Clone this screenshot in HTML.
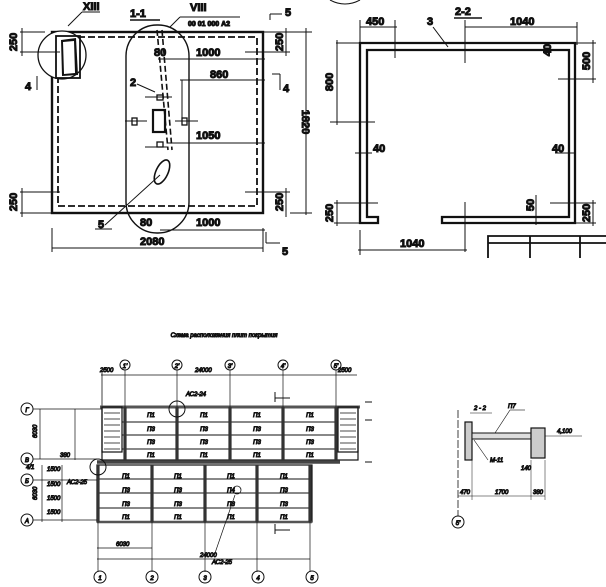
<!DOCTYPE html>
<html><head><meta charset="utf-8"><style>
html,body{margin:0;padding:0;background:#fff;width:606px;height:587px;overflow:hidden}
svg{display:block}
text{font-family:"Liberation Sans","DejaVu Sans",sans-serif;fill:#111}
.b{font-weight:bold;font-size:11px}
.s{font-size:6px;font-style:italic}
</style></head><body>
<svg width="606" height="587" viewBox="0 0 606 587" xmlns="http://www.w3.org/2000/svg" stroke="#111" fill="none">
<!-- ===== Top-left plan ===== -->
<rect x="52" y="32" width="211" height="181" stroke-width="2.4"/>
<rect x="58" y="37" width="199" height="169" stroke-width="1.8" stroke-dasharray="7,3"/>
<circle cx="62" cy="55" r="24" stroke-width="1.3" fill="#fff"/>
<rect x="56" y="36" width="24" height="42" stroke-width="1.8"/>
<polygon points="61,40 76,38 78,75 62,76" fill="#111" stroke="none"/>
<polygon points="63,42 74,41 75,73 64,74" fill="#fff" stroke="none"/>
<line x1="68" y1="26" x2="82" y2="12" stroke-width="1"/><line x1="82" y1="12" x2="100" y2="12"/>
<text x="83" y="10" class="b" font-size="9">XIII</text>
<text x="130" y="17" class="b">1-1</text><line x1="130" y1="20" x2="160" y2="20" stroke-width="1.5"/>
<text x="190" y="11" class="b" font-size="9">VIII</text>
<line x1="170" y1="27" x2="180" y2="17"/><line x1="180" y1="17" x2="240" y2="17"/>
<text x="188" y="26" font-size="7" font-weight="bold">00 01 000 А2</text>
<rect x="126" y="25" width="63" height="208" rx="31" ry="31" stroke-width="1.4"/>
<line x1="157" y1="30" x2="168" y2="150" stroke-width="1.6" stroke-dasharray="6,3"/>
<line x1="162" y1="30" x2="172" y2="150" stroke-width="1.6" stroke-dasharray="6,3"/>
<ellipse cx="162" cy="172" rx="6" ry="13" transform="rotate(25 162 172)" stroke-width="1.6"/>
<rect x="153" y="110" width="12" height="22" stroke-width="2.2"/>
<rect x="157" y="95" width="6" height="5" stroke-width="1.3"/><rect x="157" y="142" width="6" height="5" stroke-width="1.3"/>
<rect x="132" y="118" width="5" height="7" stroke-width="1.3"/><rect x="182" y="118" width="5" height="7" stroke-width="1.3"/>
<line x1="145" y1="97" x2="172" y2="97"/><line x1="125" y1="121" x2="147" y2="121"/><line x1="175" y1="121" x2="198" y2="121"/>
<line x1="145" y1="147" x2="168" y2="147"/>
<text x="130" y="86" class="b">2</text><line x1="137" y1="84" x2="155" y2="92"/>
<line x1="158" y1="59" x2="265" y2="59"/><text x="154" y="56" class="b">80</text><text x="196" y="56" class="b">1000</text>
<line x1="180" y1="80" x2="265" y2="80"/><text x="210" y="78" class="b">860</text><line x1="182" y1="80" x2="182" y2="125"/>
<line x1="168" y1="143" x2="265" y2="143"/><text x="196" y="139" class="b">1050</text>
<line x1="160" y1="230" x2="265" y2="230"/><text x="140" y="226" class="b">80</text><text x="196" y="226" class="b">1000</text>
<text x="98" y="228" class="b">5</text><line x1="105" y1="225" x2="160" y2="175"/><line x1="95" y1="229" x2="112" y2="229"/>
<line x1="52" y1="248" x2="263" y2="248"/><line x1="52" y1="228" x2="52" y2="252"/><line x1="263" y1="228" x2="263" y2="252"/>
<text x="140" y="245" class="b">2080</text>
<line x1="306" y1="28" x2="306" y2="215"/><line x1="290" y1="32" x2="312" y2="32"/><line x1="290" y1="213" x2="312" y2="213"/>
<text transform="translate(302 122) rotate(90)" class="b" text-anchor="middle">1820</text>
<line x1="20" y1="32" x2="45" y2="32"/><line x1="20" y1="52" x2="60" y2="52"/><line x1="22" y1="28" x2="22" y2="56"/>
<text transform="translate(17 42) rotate(-90)" class="b" font-size="9" text-anchor="middle">250</text>
<line x1="20" y1="192" x2="60" y2="192"/><line x1="20" y1="213" x2="52" y2="213"/><line x1="22" y1="188" x2="22" y2="217"/>
<text transform="translate(17 202) rotate(-90)" class="b" font-size="9" text-anchor="middle">250</text>
<line x1="263" y1="32" x2="290" y2="32"/><line x1="245" y1="52" x2="290" y2="52"/><line x1="286" y1="28" x2="286" y2="56"/>
<text transform="translate(283 42) rotate(-90)" class="b" font-size="9" text-anchor="middle">250</text>
<line x1="245" y1="192" x2="290" y2="192"/><line x1="286" y1="188" x2="286" y2="217"/>
<text transform="translate(283 202) rotate(-90)" class="b" font-size="9" text-anchor="middle">250</text>
<text x="25" y="90" class="b">4</text><line x1="37" y1="90" x2="37" y2="76"/>
<text x="283" y="92" class="b">4</text><line x1="272" y1="74" x2="280" y2="74"/><line x1="280" y1="74" x2="280" y2="90"/>
<text x="285" y="16" class="b">5</text><line x1="270" y1="14" x2="282" y2="14"/><line x1="270" y1="14" x2="270" y2="20"/>
<text x="282" y="255" class="b">5</text><line x1="266" y1="243" x2="280" y2="243"/><line x1="266" y1="232" x2="266" y2="243"/>
<!-- ===== Top-right section 2-2 ===== -->
<path d="M330 0 Q345 8 360 0" stroke-width="1"/>
<text x="455" y="15" class="b">2-2</text><line x1="454" y1="18" x2="482" y2="18" stroke-width="1.5"/>
<path d="M360 223 V43 H575 V223 H442 V217 H569 V50 H367 V217 H378 V223 Z" stroke-width="2.3"/>
<line x1="360" y1="27" x2="397" y2="27"/><line x1="360" y1="20" x2="360" y2="45"/><line x1="395" y1="20" x2="395" y2="58"/>
<text x="366" y="25" class="b">450</text>
<line x1="465" y1="27" x2="577" y2="27"/><line x1="465" y1="20" x2="465" y2="63"/><line x1="577" y1="22" x2="577" y2="45"/>
<text x="510" y="25" class="b">1040</text>
<text x="427" y="25" class="b">3</text><line x1="433" y1="27" x2="448" y2="47"/>
<line x1="336" y1="43" x2="360" y2="43"/><line x1="330" y1="122" x2="375" y2="122"/><line x1="337" y1="40" x2="337" y2="125"/>
<text transform="translate(333 82) rotate(-90)" class="b" text-anchor="middle">800</text>
<line x1="355" y1="153" x2="372" y2="153"/><text x="373" y="152" class="b">40</text>
<line x1="555" y1="153" x2="575" y2="153"/><text x="552" y="152" class="b">40</text>
<text transform="translate(551 50) rotate(-90)" class="b" font-size="9" text-anchor="middle">40</text>
<line x1="575" y1="43" x2="596" y2="43"/><line x1="558" y1="79" x2="596" y2="79"/><line x1="593" y1="40" x2="593" y2="83"/>
<text transform="translate(590 61) rotate(-90)" class="b" font-size="9" text-anchor="middle">500</text>
<line x1="334" y1="203" x2="378" y2="203"/><line x1="334" y1="223" x2="360" y2="223"/><line x1="337" y1="200" x2="337" y2="226"/>
<text transform="translate(333 213) rotate(-90)" class="b" font-size="9" text-anchor="middle">250</text>
<line x1="550" y1="203" x2="596" y2="203"/><line x1="575" y1="223" x2="596" y2="223"/><line x1="593" y1="200" x2="593" y2="226"/>
<text transform="translate(590 213) rotate(-90)" class="b" font-size="9" text-anchor="middle">250</text>
<line x1="536" y1="195" x2="536" y2="225"/><text transform="translate(534 205) rotate(-90)" class="b" font-size="9" text-anchor="middle">50</text>
<line x1="465" y1="202" x2="465" y2="252"/>
<line x1="358" y1="250" x2="467" y2="250"/><line x1="360" y1="230" x2="360" y2="255"/>
<text x="400" y="247" class="b">1040</text>
<path d="M488 258 V236 H606 M488 243 H606 M530 236 V258 M580 236 V258" stroke-width="1.8"/>
<!-- ===== Bottom plan ===== -->
<text x="224" y="337" class="s" font-size="7" text-anchor="middle">Схема расположения плит покрытия</text>
<line x1="101" y1="375" x2="357" y2="375" stroke-width="0.8"/>
<text x="100" y="372" class="s">2500</text><text x="195" y="372" class="s">24000</text><text x="338" y="372" class="s">2500</text>
<line x1="102" y1="373" x2="102" y2="407" stroke-width="0.8"/>
<rect x="102" y="407" width="256" height="53" stroke-width="1.2"/>
<line x1="100" y1="407" x2="360" y2="407" stroke-width="3" stroke="#555"/>
<line x1="97" y1="462" x2="340" y2="462" stroke-width="3.5" stroke="#444"/>
<g stroke-width="1.1"><line x1="122" y1="422" x2="336" y2="422"/><line x1="122" y1="435" x2="336" y2="435"/><line x1="122" y1="449" x2="336" y2="449"/></g>
<rect x="102" y="407" width="20" height="45" stroke-width="1.2"/><rect x="338" y="407" width="20" height="45" stroke-width="1.2"/>
<g stroke-width="0.7"><path d="M104 413H120M104 419H120M104 425H120M104 431H120M104 437H120M104 443H120M104 449H120M340 413H356M340 419H356M340 425H356M340 431H356M340 437H356M340 443H356M340 449H356"/></g>
<g stroke-width="3.2" stroke="#333"><line x1="125" y1="407" x2="125" y2="460"/><line x1="177" y1="407" x2="177" y2="460"/><line x1="230" y1="407" x2="230" y2="460"/><line x1="283" y1="407" x2="283" y2="460"/><line x1="336" y1="407" x2="336" y2="460"/></g>
<g stroke-width="0.7"><line x1="125" y1="370" x2="125" y2="407"/><line x1="177" y1="370" x2="177" y2="407"/><line x1="230" y1="370" x2="230" y2="407"/><line x1="283" y1="370" x2="283" y2="407"/><line x1="336" y1="370" x2="336" y2="407"/></g>
<g stroke-width="1"><circle cx="125" cy="365" r="5"/><circle cx="177" cy="365" r="5"/><circle cx="230" cy="365" r="5"/><circle cx="283" cy="365" r="5"/><circle cx="336" cy="365" r="5"/></g>
<g class="s" font-size="6" text-anchor="middle"><text x="125" y="368">1'</text><text x="177" y="368">2'</text><text x="230" y="368">3'</text><text x="283" y="368">4'</text><text x="336" y="368">5'</text></g>
<circle cx="177" cy="409" r="8" stroke-width="1"/>
<g class="s" font-size="5" text-anchor="middle">
<text x="151" y="417">П1</text><text x="204" y="417">П1</text><text x="257" y="417">П1</text><text x="310" y="417">П1</text>
<text x="151" y="431">П3</text><text x="204" y="431">П3</text><text x="257" y="431">П3</text><text x="310" y="431">П3</text>
<text x="151" y="444">П3</text><text x="204" y="444">П3</text><text x="257" y="444">П3</text><text x="310" y="444">П3</text>
<text x="151" y="457">П1</text><text x="204" y="457">П1</text><text x="257" y="457">П1</text><text x="310" y="457">П1</text>
<text x="126" y="478">П1</text><text x="178" y="478">П1</text><text x="231" y="478">П1</text><text x="284" y="478">П1</text>
<text x="126" y="492">П3</text><text x="178" y="492">П3</text><text x="231" y="492">П4</text><text x="284" y="492">П3</text>
<text x="126" y="506">П3</text><text x="178" y="506">П3</text><text x="231" y="506">П3</text><text x="284" y="506">П3</text>
<text x="126" y="519">П1</text><text x="178" y="519">П1</text><text x="231" y="519">П1</text><text x="284" y="519">П1</text>
</g>
<rect x="97" y="465" width="215" height="57" stroke-width="1.2"/>
<line x1="97" y1="522" x2="312" y2="522" stroke-width="2.5" stroke="#555"/>
<g stroke-width="1.1"><line x1="97" y1="479" x2="312" y2="479"/><line x1="97" y1="493" x2="312" y2="493"/><line x1="97" y1="508" x2="312" y2="508"/></g>
<g stroke-width="3.2" stroke="#333"><line x1="98" y1="465" x2="98" y2="522"/><line x1="152" y1="465" x2="152" y2="522"/><line x1="205" y1="465" x2="205" y2="522"/><line x1="257" y1="465" x2="257" y2="522"/><line x1="310" y1="465" x2="310" y2="522"/></g>
<g stroke-width="0.7"><line x1="98" y1="522" x2="98" y2="572"/><line x1="152" y1="522" x2="152" y2="572"/><line x1="205" y1="522" x2="205" y2="572"/><line x1="257" y1="522" x2="257" y2="572"/><line x1="310" y1="522" x2="310" y2="572"/>
<line x1="97" y1="548" x2="152" y2="548"/><line x1="97" y1="559" x2="310" y2="559"/></g>
<text x="116" y="546" class="s">6030</text><text x="200" y="557" class="s">24000</text>
<g stroke-width="1"><circle cx="100" cy="577" r="6"/><circle cx="152" cy="577" r="6"/><circle cx="205" cy="577" r="6"/><circle cx="258" cy="577" r="6"/><circle cx="312" cy="577" r="6"/></g>
<g class="s" font-size="7" text-anchor="middle"><text x="100" y="580">1</text><text x="152" y="580">2</text><text x="205" y="580">3</text><text x="258" y="580">4</text><text x="312" y="580">5</text></g>
<circle cx="98" cy="467" r="8" stroke-width="1"/>
<g stroke-width="1"><circle cx="27" cy="409" r="6"/><circle cx="27" cy="459" r="6"/><circle cx="27" cy="480" r="6"/><circle cx="27" cy="520" r="6"/></g>
<g class="s" font-size="7" text-anchor="middle"><text x="27" y="412">Г</text><text x="27" y="462">В</text><text x="27" y="483">Б</text><text x="27" y="523">А</text></g>
<g stroke-width="0.7"><line x1="33" y1="409" x2="102" y2="409"/><line x1="33" y1="459" x2="97" y2="459"/><line x1="33" y1="480" x2="97" y2="480"/><line x1="33" y1="520" x2="97" y2="520"/>
<line x1="40" y1="409" x2="40" y2="459"/><line x1="42" y1="465" x2="42" y2="522"/><line x1="75" y1="409" x2="75" y2="460"/><line x1="62" y1="465" x2="62" y2="522"/></g>
<g class="s" font-size="5"><text x="47" y="471">1500</text><text x="47" y="486">1500</text><text x="47" y="500">1500</text><text x="47" y="514">1500</text><text x="60" y="457">380</text>
<text x="67" y="484" font-size="6">АС2-25</text><text x="186" y="396" font-size="6">АС2-24</text><text x="212" y="564" font-size="6">АС2-25</text>
<text transform="translate(37 438) rotate(-90)">6030</text><text transform="translate(37 500) rotate(-90)">6030</text><text x="26" y="469">4/1</text></g>
<line x1="214" y1="556" x2="235" y2="495" stroke-width="0.7"/><circle cx="237" cy="490" r="4" stroke-width="0.8"/>
<line x1="275" y1="398" x2="290" y2="398"/><line x1="275" y1="392" x2="275" y2="402"/>
<line x1="275" y1="530" x2="290" y2="530"/><line x1="275" y1="524" x2="275" y2="534"/>
<line x1="365" y1="402" x2="372" y2="402"/><line x1="365" y1="462" x2="372" y2="462"/><line x1="365" y1="420" x2="372" y2="420"/>
<!-- ===== Bottom-right detail ===== -->
<text x="474" y="410" class="s" font-size="8">2 - 2</text><line x1="470" y1="413" x2="492" y2="413" stroke-width="0.6"/>
<line x1="458" y1="410" x2="458" y2="516" stroke-width="0.8" stroke-dasharray="8,2"/>
<circle cx="458" cy="522" r="6" stroke-width="1"/><text x="458" y="525" class="s" font-size="7" text-anchor="middle">5'</text>
<rect x="465" y="422" width="7" height="38" stroke-width="1.2" fill="#ccc"/>
<rect x="472" y="433" width="62" height="6" stroke-width="1" fill="#ddd"/>
<rect x="531" y="428" width="14" height="30" stroke-width="1.2" fill="#ccc"/>
<line x1="495" y1="433" x2="510" y2="410" stroke-width="0.6"/><line x1="510" y1="410" x2="525" y2="410" stroke-width="0.6"/><text x="508" y="408" class="s">П7</text>
<line x1="474" y1="440" x2="488" y2="460" stroke-width="0.6"/><text x="490" y="462" class="s">М-11</text>
<line x1="545" y1="436" x2="582" y2="436" stroke-width="0.6"/><text x="557" y="433" class="s" font-size="7">4,100</text>
<line x1="458" y1="496" x2="545" y2="496" stroke-width="0.6"/><line x1="472" y1="460" x2="472" y2="500" stroke-width="0.5"/><line x1="531" y1="460" x2="531" y2="500" stroke-width="0.5"/><line x1="545" y1="460" x2="545" y2="500" stroke-width="0.5"/>
<text x="460" y="494" class="s" font-size="5">470</text><text x="495" y="494" class="s" font-size="5">1700</text><text x="533" y="494" class="s" font-size="5">380</text><text x="521" y="470" class="s" font-size="5">140</text>
</svg>
</body></html>
